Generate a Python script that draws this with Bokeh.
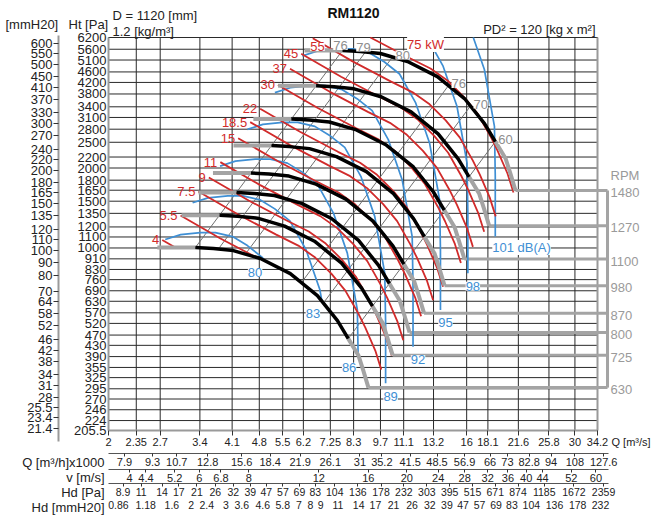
import numpy as np
from bokeh.plotting import figure
from bokeh.models import Range1d, LogAxis, LogScale, FixedTicker, Label
from bokeh.core.properties import value
from bokeh.embed import file_html
from bokeh.resources import INLINE

# ---------------- data ----------------
Q_TICKS = [2, 2.35, 2.7, 3.4, 4.1, 4.8, 5.5, 6.2, 7.25, 8.3, 9.7, 11.1, 13.2, 16, 18.1, 21.6, 25.8, 30, 34.2]
PA_TICKS = [205.5, 224, 246, 270, 295, 325, 355, 390, 430, 470, 520, 570, 630, 690, 760, 830, 910, 1000,
            1100, 1200, 1350, 1500, 1650, 1800, 2000, 2200, 2500, 2800, 3100, 3400, 3800, 4200, 4600,
            5100, 5600, 6200]
MM_TICKS = [21.4, 23.4, 25.5, 28, 31, 34, 38, 42, 46, 52, 58, 64, 70, 80, 90, 100, 110, 120, 135, 150,
            165, 180, 200, 220, 240, 270, 300, 330, 370, 410, 450, 500, 550, 600]
QH_TICKS = [7.9, 9.3, 10.7, 12.8, 15.6, 18.4, 21.9, 26.1, 31, 35.2, 41.5, 48.5, 56.9, 66, 73, 82.8, 94, 108, 127.6]
V_TICKS = [4, 4.4, 5.2, 6, 6.8, 8, 12, 16, 20, 24, 28, 32, 36, 40, 44, 52, 60]
HDPA_TICKS = [8.9, 11, 14, 17, 21, 26, 32, 39, 47, 57, 69, 83, 104, 136, 178, 232, 303, 395, 515, 671,
              874, 1185, 1672, 2359]
HDMM_TICKS = [0.86, 1.18, 1.6, 2, 2.4, 3, 3.6, 4.6, 5.8, 7, 8, 9, 11, 14, 17, 21, 26, 32, 39, 47, 57, 69,
              83, 104, 136, 178, 232]

# conversion factors of the lower scales (per m3/s)
QH_K = 3.6          # m3/h x1000
V_K = 1.77          # outlet velocity m/s
HD_K = 1.88         # dynamic pressure Pa (per (m3/s)^2)
MMH2O = 9.81        # Pa per mmH2O

# fan curve at the top speed (Q m3/s, Pt Pa): gray start, black, gray end
RPM = [1480, 1270, 1100, 980, 870, 800, 725, 630]
FAN_Q = [6.24, 7.78, 8.64, 9.70, 11.35, 13.5, 15.8, 17.75, 18.9, 20.06, 20.63, 21.25]
FAN_P = [5539, 5539, 5491, 5396, 5036, 4419, 3653, 2941, 2515, 2172, 1906, 1645]

# motor power line for 75 kW
KW = [4, 5.5, 7.5, 9, 11, 15, 18.5, 22, 30, 37, 45, 55, 75]
PWR_Q = [7.26, 9.15, 11.41, 12.97, 14.31, 15.71, 17.04, 18.38, 19.14, 20.28, 21.0]
PWR_P = [7569, 6200, 5213, 4739, 4271, 3717, 3208, 2629, 2327, 1907, 1617]

# sound level line for 80 dB(A)
DBA = [80, 83, 86, 89, 92, 95, 98, 101]
NOISE_Q = [2.78, 3.04, 3.41, 3.72, 4.11, 4.48, 4.89, 5.37, 5.82, 6.17, 6.20, 6.20]
NOISE_P = [1076, 1123, 1143, 1143, 1104, 1021, 920, 716, 506, 309, 200, 119]
NOISE_LAW = 43.4

# efficiency lines: % and flow where they meet the top-speed curve
EFF = [76, 79, 80, 76, 70, 60]
EFF_Q = [7.78, 8.89, 10.40, 14.40, 16.36, 18.9]

# ---------------- styles / geometry ----------------
FONT = "Liberation Sans"
RED = "#d12b2b"
BLUE = "#3f8fd4"
GRAY_TXT = "#8e8e8e"
GRAY_SEG = "#a4a4a4"
GRID = "#2a2a2a"
TXT = "#222222"
W, H = 653, 517
L, T, B = 108, 37, 430
XR = 597

DQ = np.log10(Q_TICKS[-1] / Q_TICKS[0]) / (XR - L)
DP = np.log10(PA_TICKS[-1] / PA_TICKS[0]) / (B - T)
Q_LO, Q_TOP = Q_TICKS[0], Q_TICKS[-1]
P_LO, P_HI = PA_TICKS[0], PA_TICKS[-1]


def at(px, py):
    return Q_LO * 10 ** ((px - L) * DQ), P_HI * 10 ** (-(py - T) * DP)


def off(q, pp, dx, dy):
    return q * 10 ** (dx * DQ), pp * 10 ** (-dy * DP)


def fmt(v):
    return f"{v:g}"


def clip_below(qs, ps, bq, bp, steps=80):
    lq, lp = np.log10(qs), np.log10(ps)
    lbq, lbp = np.log10(bq), np.log10(bp)

    def gap(a, b):
        if a < lbq[0] or a > lbq[-1]:
            return 1.0
        return b - np.interp(a, lbq, lbp)

    oq, op = [qs[0]], [ps[0]]
    for i in range(1, len(qs)):
        if gap(lq[i], lp[i]) >= 0:
            oq.append(qs[i]); op.append(ps[i]); continue
        for t in np.linspace(0, 1, steps + 1)[1:]:
            a = lq[i - 1] + t * (lq[i] - lq[i - 1])
            b = lp[i - 1] + t * (lp[i] - lp[i - 1])
            if gap(a, b) < 0:
                oq.append(10 ** a); op.append(10 ** b)
                break
        break
    return oq, op


def clip_top(qs, ps, ptop=P_HI):
    qs, ps = list(qs), list(ps)
    if ps[0] <= ptop:
        return qs, ps
    for i in range(1, len(ps)):
        if ps[i] <= ptop:
            la, lb = np.log10(ps[i - 1]), np.log10(ps[i])
            t = (la - np.log10(ptop)) / (la - lb)
            q = 10 ** (np.log10(qs[i - 1]) + t * (np.log10(qs[i]) - np.log10(qs[i - 1])))
            return [q] + qs[i:], [ptop] + ps[i:]
    return [], []


X0, Y1 = at(0, 0)
X1, Y0 = at(W, H)
p = figure(width=W, height=H, x_axis_type="log", y_axis_type="log",
           x_range=Range1d(X0, X1), y_range=Range1d(Y0, Y1), min_border=0,
           toolbar_location=None, output_backend="svg", title_location=None)
p.outline_line_color = None
p.xgrid.visible = False
p.ygrid.visible = False
p.background_fill_color = "white"
p.border_fill_color = "white"

# ---------------- grid ----------------
p.multi_line([[q, q] for q in Q_TICKS], [[P_LO, P_HI]] * len(Q_TICKS), line_color=GRID, line_width=1)
p.multi_line([[Q_LO, Q_TOP]] * len(PA_TICKS), [[v, v] for v in PA_TICKS], line_color=GRID, line_width=1)
p.line([Q_TOP, Q_TOP], [P_LO, P_HI], line_color="#9a9a9a", line_width=2)

# ---------------- fan curves ----------------
fq, fp = np.array(FAN_Q), np.array(FAN_P)
curves = {n: (fq * n / RPM[0], fp * (n / RPM[0]) ** 2) for n in RPM}
bq, bp = curves[RPM[-1]]
Q_BR = at(607, 0)[0]

p.multi_line([[curves[n][0][-1], Q_BR] for n in RPM], [[curves[n][1][-1]] * 2 for n in RPM],
             line_color=GRAY_SEG, line_width=3)
p.line([Q_BR, Q_BR], [curves[RPM[0]][1][-1], curves[RPM[-1]][1][-1]], line_color=GRAY_SEG, line_width=3)

# efficiency lines
k0 = RPM[-1] / RPM[0]
eff_xs, eff_ys, eff_top = [], [], []
for qt in EFF_Q:
    pt = 10 ** np.interp(np.log10(qt), np.log10(fq), np.log10(fp))
    eff_xs.append([qt * k0, qt]); eff_ys.append([pt * k0 * k0, pt]); eff_top.append((qt, pt))
p.multi_line(eff_xs, eff_ys, line_color="#707070", line_width=1)

# noise lines
blue_xs, blue_ys, blue_end = [], [], []
for db in DBA:
    k = 10 ** ((db - DBA[0]) / NOISE_LAW)
    cq, cp = clip_below(np.array(NOISE_Q) * k, np.array(NOISE_P) * k * k, bq, bp)
    cq, cp = clip_top(cq, cp)
    blue_xs.append(cq); blue_ys.append(cp); blue_end.append((cq[-1], cp[-1]))
p.multi_line(blue_xs, blue_ys, line_color=BLUE, line_width=1.7)

# power lines
red_xs, red_ys, red_start = [], [], []
for w in KW:
    k = (w / KW[-1]) ** (1 / 3)
    cq, cp = clip_below(np.array(PWR_Q) * k, np.array(PWR_P) * k * k, bq, bp)
    cq, cp = clip_top(cq, cp)
    red_xs.append(cq); red_ys.append(cp); red_start.append((cq[0], cp[0]))
p.multi_line(red_xs, red_ys, line_color=RED, line_width=1.8)

# fan curve parts
gs_x, gs_y, bl_x, bl_y, ge_x, ge_y = [], [], [], [], [], []
for n in RPM:
    q, pp = curves[n]
    gs_x.append(list(q[0:2])); gs_y.append(list(pp[0:2]))
    bl_x.append(list(q[1:9])); bl_y.append(list(pp[1:9]))
    ge_x.append(list(q[8:])); ge_y.append(list(pp[8:]))
p.multi_line(gs_x, gs_y, line_color=GRAY_SEG, line_width=4)
p.multi_line(ge_x, ge_y, line_color=GRAY_SEG, line_width=4, line_join="round")
p.multi_line(bl_x, bl_y, line_color="black", line_width=3.5, line_join="round")


# ---------------- texts ----------------
def lab(q, pp, text, color, align="center", size="13px", bg=None):
    p.add_layout(Label(x=q, y=pp, text=text, text_align=align, text_baseline="middle",
                       text_font=FONT, text_font_size=size, text_color=color,
                       background_fill_color=bg))


def txt(q, pp, text, color=TXT, align="left", size="13px", style="normal"):
    p.text([q], [pp], text=[text], text_font=value(FONT), text_font_size=size, text_color=color,
           text_align=align, text_baseline="middle", text_font_style=style)


# red kW labels
rq, rp, rt = [], [], []
for w, (q, pp) in zip(KW, red_start):
    if w >= 55:
        continue
    a, b = off(q, pp, -3, 0)
    rq.append(a); rp.append(b); rt.append(fmt(w))
p.text(rq, rp, text=rt, text_font=value(FONT), text_font_size="13px", text_color=RED,
       text_align="right", text_baseline="middle")
lab(*at(317, 46), "55", RED, bg="white")
lab(*at(425, 44), "75 kW", RED, bg="white")

# efficiency labels
for i, (e, (q, pp)) in enumerate(zip(EFF, eff_top)):
    if i < 2:
        lab(*off(q, pp, -2, -5), fmt(e), GRAY_TXT, "center", bg="white")
    else:
        lab(*off(q, pp, 3, -2), fmt(e), GRAY_TXT, "left", bg="white")

# noise labels
for db, (q, pp) in zip(DBA, blue_end):
    if db == DBA[-1]:
        lab(*off(q, pp, -3, 11), f"{db} dB(A)", BLUE, "left", bg="white")
    elif db <= 86:
        lab(*off(q, pp, -9, 12), fmt(db), BLUE, "center", bg="white")
    else:
        lab(*off(q, pp, 5, 13), fmt(db), BLUE, "center", bg="white")

# RPM labels
xr = at(610, 0)[0]
p.text([xr] * len(RPM), [off(xr, curves[n][1][-1], 0, 2)[1] for n in RPM], text=[str(n) for n in RPM],
       text_font=value(FONT), text_font_size="13px", text_color="#9a9a9a", text_align="left",
       text_baseline="middle")
txt(xr, at(0, 175)[1], "RPM", "#9a9a9a")

# titles and scale names
txt(*at(5, 24), "[mmH20]")
txt(*at(68, 24), "Ht [Pa]")
txt(*at(112, 15), "D = 1120 [mm]")
txt(*at(112, 31), "1.2 [kg/m³]")
txt(*at(353, 12), "RM1120", "#111111", "center", "14px", "bold")
txt(*at(595, 29), "PD² = 120 [kg x m²]", align="right")
txt(*at(611, 441), "Q [m³/s]", size="11px")
for t_, yy in [("Q [m³/h]x1000", 462), ("v [m/s]", 477), ("Hd [Pa]", 492), ("Hd [mmH20]", 507)]:
    txt(*at(104, yy), t_, align="right")


# ---------------- axes ----------------
def style_axis(a, ticks, size="13px", tick_out=4, standoff=2, line_color="#9a9a9a", line_width=2):
    a.ticker = FixedTicker(ticks=ticks, minor_ticks=[])
    a.major_label_overrides = {v: fmt(v) for v in ticks}
    a.major_label_text_font = FONT
    a.major_label_text_font_size = size
    a.major_label_text_color = TXT
    a.major_tick_out = tick_out
    a.major_tick_in = 0
    a.minor_tick_out = 0
    a.minor_tick_in = 0
    a.major_tick_line_color = "#333333"
    a.major_label_standoff = standoff
    a.axis_line_color = line_color
    a.axis_line_width = line_width


ya = p.yaxis[0]
style_axis(ya, PA_TICKS, tick_out=0, standoff=2)
ya.fixed_location = Q_LO
ya.bounds = (P_LO, P_HI)

p.extra_y_ranges = {"mm": Range1d(Y0 / MMH2O, Y1 / MMH2O)}
p.extra_y_scales = {"mm": LogScale()}
ma = LogAxis(y_range_name="mm")
style_axis(ma, MM_TICKS, tick_out=5, standoff=1)
ma.fixed_location = at(58, 0)[0]
ma.bounds = (at(0, 441)[1] / MMH2O, at(0, 35)[1] / MMH2O)
p.add_layout(ma, "left")

xa = p.xaxis[0]
style_axis(xa, Q_TICKS, size="11px", tick_out=5, standoff=2)
xa.fixed_location = P_LO
xa.bounds = (Q_LO, Q_TOP)

p.extra_x_ranges = {
    "qh": Range1d(X0 * QH_K, X1 * QH_K),
    "v": Range1d(X0 * V_K, X1 * V_K),
    "hdpa": Range1d(HD_K * X0 ** 2, HD_K * X1 ** 2),
    "hdmm": Range1d(HD_K * X0 ** 2 / MMH2O, HD_K * X1 ** 2 / MMH2O),
}
p.extra_x_scales = {k: LogScale() for k in p.extra_x_ranges}
q_end = at(608, 0)[0]
for name, ticks, kf, size, line, ypx in [
    ("qh", QH_TICKS, lambda q: q * QH_K, "11px", "#555555", 453),
    ("v", V_TICKS, lambda q: q * V_K, "11px", "#555555", 469),
    ("hdpa", HDPA_TICKS, lambda q: HD_K * q * q, "10.5px", "#555555", 483),
    ("hdmm", HDMM_TICKS, lambda q: HD_K * q * q / MMH2O, "10.5px", None, 499),
]:
    a = LogAxis(x_range_name=name)
    style_axis(a, ticks, size=size, tick_out=3 if line else 0, standoff=1,
               line_color=line, line_width=1)
    if line is None:
        a.major_tick_line_color = None
    a.fixed_location = at(0, ypx)[1]
    a.bounds = (kf(Q_LO), kf(q_end))
    p.add_layout(a, "below")

open("out.html", "w").write(file_html(p, INLINE))
